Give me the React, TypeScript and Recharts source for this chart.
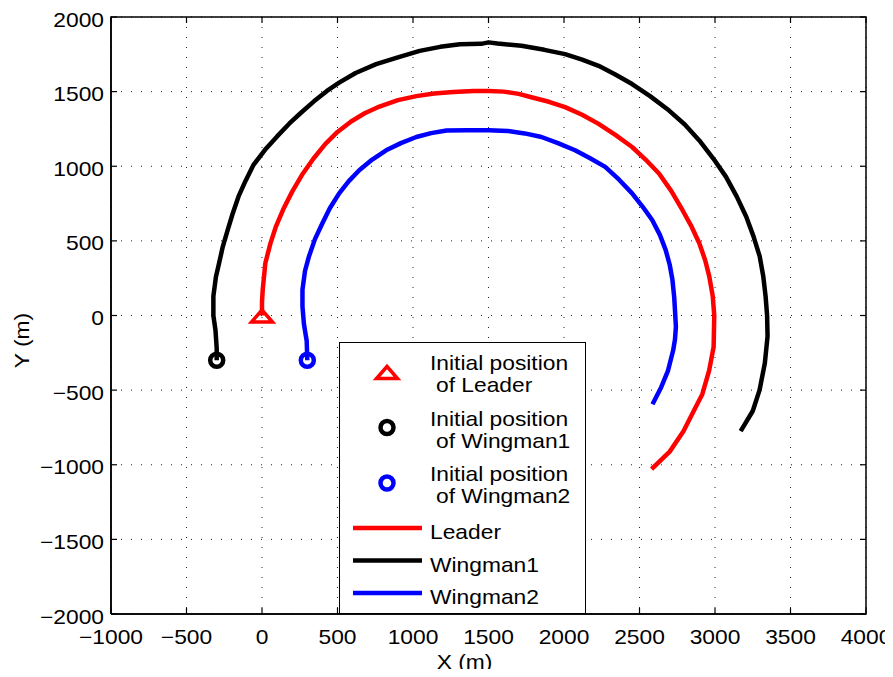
import React from 'react'
import { ComposedChart, XAxis, YAxis, CartesianGrid, Line, Scatter, Legend } from 'recharts'

// axis ticks
const xTicks = [-1000, -500, 0, 500, 1000, 1500, 2000, 2500, 3000, 3500, 4000]
const yTicks = [-2000, -1500, -1000, -500, 0, 500, 1000, 1500, 2000]

const seriesNames = ['Leader', 'Wingman1', 'Wingman2']

// trajectories, [x, y] in metres
const leaderPath: [number, number][] = [
  [0, 0], [0, 90], [5, 175], [22, 350], [55, 480], [90, 590], [140, 710], [200, 830],
  [270, 950], [340, 1050], [420, 1150], [500, 1230], [590, 1300], [680, 1355], [778, 1400],
  [900, 1443], [1022, 1470], [1140, 1488], [1267, 1498], [1400, 1505], [1500, 1505],
  [1600, 1500], [1700, 1485], [1784, 1462], [1900, 1432], [2007, 1396], [2120, 1345],
  [2229, 1284], [2340, 1210], [2451, 1129], [2540, 1045], [2629, 951], [2710, 835],
  [2784, 707], [2845, 595], [2896, 484], [2935, 370], [2962, 262], [2985, 130], [2995, 0],
  [2991, -210], [2961, -369], [2916, -527], [2859, -640], [2791, -776], [2700, -912],
  [2580, -1030],
]

const wingman1Path: [number, number][] = [
  [-300, -300], [-300, -220], [-308, -100], [-322, 0], [-322, 129], [-305, 260], [-284, 351],
  [-260, 460], [-227, 573], [-195, 680], [-156, 796], [-110, 900], [-56, 1010], [20, 1110],
  [100, 1200], [180, 1285], [260, 1360], [344, 1435], [430, 1505], [511, 1560], [620, 1625],
  [756, 1684], [900, 1730], [1044, 1773], [1180, 1800], [1311, 1818], [1451, 1820],
  [1500, 1830], [1560, 1822], [1718, 1807], [1870, 1780], [2007, 1751], [2120, 1715],
  [2229, 1673], [2340, 1615], [2451, 1551], [2570, 1470], [2696, 1373], [2800, 1280],
  [2896, 1173], [2990, 1050], [3073, 929], [3145, 795], [3207, 662], [3255, 530],
  [3296, 396], [3320, 260], [3335, 129], [3345, 0], [3348, -140], [3330, -320],
  [3295, -500], [3250, -640], [3170, -775],
]

const wingman2Path: [number, number][] = [
  [300, -300], [296, -170], [278, -60], [268, 60], [268, 173], [285, 300], [311, 396],
  [350, 510], [400, 618], [450, 720], [511, 818], [575, 900], [644, 973], [730, 1045],
  [822, 1107], [920, 1155], [1022, 1196], [1120, 1222], [1222, 1240], [1356, 1242],
  [1500, 1242], [1629, 1236], [1740, 1220], [1851, 1196], [1960, 1155], [2073, 1107],
  [2170, 1055], [2273, 996], [2365, 910], [2451, 818], [2520, 730], [2584, 640],
  [2635, 540], [2673, 440], [2700, 340], [2718, 240], [2730, 120], [2736, 18],
  [2741, -75], [2735, -160], [2723, -233], [2689, -369], [2643, -482], [2586, -595],
]

const startPositions: [number, number][] = [[0, 0], [-300, -300], [300, -300]]

const paths = [leaderPath, wingman1Path, wingman2Path]

const X_MIN = -1000
const X_MAX = 4000
const Y_MIN = -2000
const Y_MAX = 2000
const TICK_LEN = 6

// corners of the axes box, walked round once
const boxCorners = [
  { x: X_MIN, y: Y_MIN },
  { x: X_MIN, y: Y_MAX },
  { x: X_MAX, y: Y_MAX },
  { x: X_MAX, y: Y_MIN },
  { x: X_MIN, y: Y_MIN },
]

const COLORS = ['#ff0000', '#000000', '#0000ff']
const FONT = '"Liberation Sans", Arial, Helvetica, sans-serif'
const STRETCH = 1.14
const FS = 20

const toPoints = (path: [number, number][]) => path.map(([x, y]) => ({ x, y }))
const fmt = (v: number) => (v < 0 ? `\u2212${Math.abs(v)}` : `${v}`)

const WideText = ({ x, y, anchor = 'start', rotate = 0, children }: any) => (
  <text
    transform={`translate(${x},${y}) rotate(${rotate}) scale(${STRETCH},1)`}
    textAnchor={anchor}
    fontSize={FS}
    fontFamily={FONT}
    fill="#000"
  >
    {children}
  </text>
)

const XTick = ({ x, y, payload }: any) => (
  <WideText x={x} y={y + 36} anchor="middle">{fmt(payload.value)}</WideText>
)

const YTick = ({ x, y, payload }: any) => (
  <WideText x={x - 13} y={y + 9.5} anchor="end">{fmt(payload.value)}</WideText>
)

const Triangle = ({ cx, cy, color }: any) => (
  <path
    d={`M${cx},${cy - 5.5} L${cx + 10.5},${cy + 6.5} L${cx - 10.5},${cy + 6.5} Z`}
    fill="none"
    stroke={color}
    strokeWidth={3.5}
  />
)

const Ring = ({ cx, cy, color }: any) => (
  <circle cx={cx} cy={cy} r={6.5} fill="none" stroke={color} strokeWidth={4.5} />
)

const StartMarker = ({ index, cx, cy }: any) =>
  index === 0 ? <Triangle cx={cx} cy={cy} color={COLORS[index]} /> : <Ring cx={cx} cy={cy} color={COLORS[index]} />

// inner tick marks: each side lists its tick points and the direction into the box
const tickSides = [
  { pts: xTicks.map((x) => ({ x, y: Y_MIN })), dx: 0, dy: -1 },
  { pts: xTicks.map((x) => ({ x, y: Y_MAX })), dx: 0, dy: 1 },
  { pts: yTicks.map((y) => ({ x: X_MIN, y })), dx: 1, dy: 0 },
  { pts: yTicks.map((y) => ({ x: X_MAX, y })), dx: -1, dy: 0 },
]

const LegendBox = () => (
  <svg width={247} height={272} style={{ display: 'block' }}>
    <rect x={0.5} y={0.5} width={246} height={271} fill="#fff" stroke="#000" strokeWidth={1} />
    {seriesNames.map((name, i) => {
      const my = 30 + i * 55.5
      return (
        <g key={`start-${name}`}>
          <StartMarker index={i} cx={48} cy={my} />
          <WideText x={91} y={my - 2}>Initial position</WideText>
          <WideText x={97} y={my + 20}>{`of ${name}`}</WideText>
        </g>
      )
    })}
    {seriesNames.map((name, i) => {
      const ly = 186 + i * 32.5
      return (
        <g key={`line-${name}`}>
          <line x1={14} x2={83} y1={ly} y2={ly} stroke={COLORS[i]} strokeWidth={4.5} />
          <WideText x={91} y={ly + 11}>{name}</WideText>
        </g>
      )
    })}
  </svg>
)

const XTitle = ({ viewBox }: any) => (
  <WideText x={viewBox.x + viewBox.width / 2 - 24} y={viewBox.y + 55} anchor="middle">X (m)</WideText>
)

const YTitle = ({ viewBox }: any) => (
  <WideText x={viewBox.x - 22} y={viewBox.y + viewBox.height / 2 + 25} anchor="middle" rotate={-90}>Y (m)</WideText>
)

export default function App() {
  return (
    <div style={{ marginBottom: -8 }}>
      <ComposedChart width={885} height={669} margin={{ top: 9, right: 27, bottom: 13, left: 43 }}>
        <CartesianGrid stroke="#222" strokeDasharray="1 9" />
        <XAxis
          type="number"
          dataKey="x"
          domain={[X_MIN, X_MAX]}
          ticks={xTicks}
          interval={0}
          height={50}
          stroke="#000"
          strokeWidth={1.5}
          tickSize={-6}
          tickMargin={0}
          tickLine={false}
          tick={<XTick />}
          label={{ content: XTitle }}
        />
        <YAxis
          type="number"
          dataKey="y"
          domain={[Y_MIN, Y_MAX]}
          ticks={yTicks}
          interval={0}
          width={60}
          stroke="#000"
          strokeWidth={1.5}
          tickSize={-6}
          tickMargin={0}
          tickLine={false}
          tick={<YTick />}
          label={{ content: YTitle }}
        />
        {/* axes box */}
        <Line
          data={boxCorners}
          dataKey="y"
          type="linear"
          stroke="#000"
          strokeWidth={1.5}
          dot={false}
          activeDot={false}
          legendType="none"
          isAnimationActive={false}
        />
        {tickSides.map((side, i) => (
          <Scatter
            key={`ticks-${i}`}
            data={side.pts}
            dataKey="y"
            legendType="none"
            isAnimationActive={false}
            shape={(p: any) => (
              <line
                x1={p.cx}
                y1={p.cy}
                x2={p.cx + side.dx * TICK_LEN}
                y2={p.cy + side.dy * TICK_LEN}
                stroke="#000"
                strokeWidth={1.2}
              />
            )}
          />
        ))}
        {paths.map((path, i) => (
          <Line
            key={seriesNames[i]}
            data={toPoints(path)}
            dataKey="y"
            name={seriesNames[i]}
            type="linear"
            stroke={COLORS[i]}
            strokeWidth={4.5}
            strokeLinejoin="round"
            dot={false}
            activeDot={false}
            isAnimationActive={false}
          />
        ))}
        {startPositions.map(([x, y], i) => (
          <Scatter
            key={`start-${seriesNames[i]}`}
            data={[{ x, y }]}
            dataKey="y"
            shape={(p: any) => <StartMarker index={i} cx={p.cx} cy={p.cy} />}
            isAnimationActive={false}
          />
        ))}
        <Legend
          verticalAlign="middle"
          align="center"
          layout="horizontal"
          content={() => <LegendBox />}
          wrapperStyle={{ position: 'absolute', left: 331, top: 334, width: 247, height: 272 }}
        />
      </ComposedChart>
    </div>
  )
}
